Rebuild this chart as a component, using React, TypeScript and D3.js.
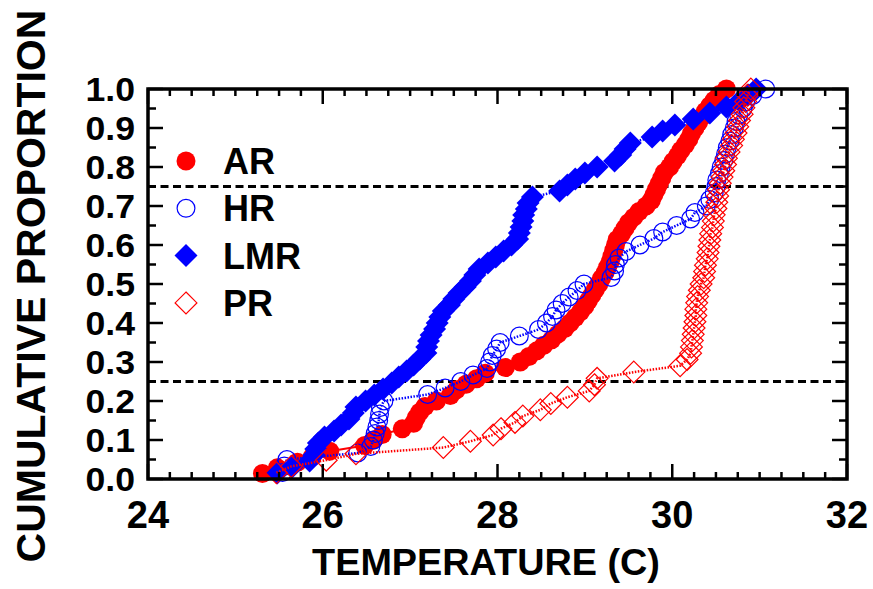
import React from "react";
import * as d3 from "d3";

const X_TICKS = [24, 26, 28, 30, 32];
const Y_TICKS = [0, 0.1, 0.2, 0.3, 0.4, 0.5, 0.6, 0.7, 0.8, 0.9, 1.0];
const Y_TICK_LABELS = ["0.0", "0.1", "0.2", "0.3", "0.4", "0.5", "0.6", "0.7", "0.8", "0.9", "1.0"];
const REF_LINES = [0.25, 0.75];
const SERIES_NAMES = ["AR", "HR", "LMR", "PR"];

const AR_TEMPS = [
  25.31, 25.48, 25.71, 25.88, 26.08, 26.48, 26.58, 26.68, 26.91, 27.04,
  27.07, 27.11, 27.17, 27.30, 27.46, 27.53, 27.64, 27.76, 27.86, 28.09,
  28.26, 28.36, 28.45, 28.53, 28.62, 28.69, 28.77, 28.83, 28.89, 28.95,
  29.00, 29.04, 29.08, 29.12, 29.16, 29.19, 29.23, 29.26, 29.29, 29.31,
  29.33, 29.35, 29.37, 29.42, 29.46, 29.50, 29.56, 29.62, 29.70, 29.76,
  29.79, 29.82, 29.85, 29.88, 29.91, 29.97, 30.01, 30.06, 30.10, 30.15,
  30.19, 30.22, 30.26, 30.30, 30.34, 30.38, 30.43, 30.48, 30.54, 30.62,
];

const HR_TEMPS = [
  25.54, 25.56, 25.59, 26.40, 26.55, 26.58, 26.60, 26.62, 26.64, 26.65,
  26.66, 26.70, 27.20, 27.40, 27.58, 27.72, 27.88, 27.91, 27.94, 27.99,
  28.03, 28.25, 28.47, 28.56, 28.63, 28.67, 28.74, 28.82, 28.91, 28.99,
  29.30, 29.34, 29.35, 29.39, 29.47, 29.63, 29.79, 29.89, 30.05, 30.21,
  30.26, 30.39, 30.43, 30.48, 30.50, 30.51, 30.54, 30.56, 30.59, 30.61,
  30.63, 30.66, 30.68, 30.71, 30.73, 30.76, 30.81, 30.84, 30.92, 31.07,
];

const LMR_TEMPS = [
  25.48, 25.65, 25.85, 25.90, 25.92, 25.95, 26.02, 26.13, 26.21, 26.30,
  26.35, 26.38, 26.49, 26.59, 26.69, 26.79, 26.87, 26.96, 27.04, 27.11,
  27.18, 27.19, 27.21, 27.24, 27.28, 27.31, 27.34, 27.38, 27.45, 27.50,
  27.56, 27.63, 27.69, 27.74, 27.79, 27.89, 27.98, 28.07, 28.16, 28.23,
  28.25, 28.27, 28.29, 28.30, 28.33, 28.35, 28.40, 28.71, 28.80, 28.89,
  29.00, 29.14, 29.34, 29.41, 29.46, 29.52, 29.77, 29.89, 30.03, 30.24,
  30.43, 30.62, 30.77, 30.87, 30.96,
];

const PR_TEMPS = [
  25.47, 25.64, 26.04, 26.38, 27.38, 27.69, 27.95, 28.04, 28.20, 28.29,
  28.49, 28.61, 28.80, 29.05, 29.11, 29.14, 29.56, 30.09, 30.17, 30.21,
  30.22, 30.23, 30.24, 30.25, 30.26, 30.27, 30.27, 30.28, 30.29, 30.31,
  30.33, 30.36, 30.37, 30.38, 30.40, 30.41, 30.42, 30.43, 30.44, 30.46,
  30.47, 30.48, 30.50, 30.51, 30.52, 30.53, 30.55, 30.57, 30.59, 30.61,
  30.62, 30.65, 30.68, 30.70, 30.73, 30.75, 30.77, 30.80, 30.82, 30.84,
  30.86, 30.90,
];

type Pt = { t: number; p: number };
const ecdf = (temps: number[]): Pt[] => {
  const s = [...temps].sort(d3.ascending);
  return s.map((t, i) => ({ t, p: (i + 1) / s.length }));
};

const RED = "#ff0000";
const BLUE = "#0000ff";
const FONT = "'Liberation Sans', Arial, sans-serif";

type Style = {
  marker: "circle" | "diamond";
  fill: string;
  stroke: string;
  lineColor: string;
  dash: string | undefined;
  lineWidth: number;
};

const STYLES: Style[] = [
  { marker: "circle", fill: RED, stroke: RED, lineColor: RED, dash: undefined, lineWidth: 2 },
  { marker: "circle", fill: "none", stroke: BLUE, lineColor: BLUE, dash: "1.5,1.5", lineWidth: 2.5 },
  { marker: "diamond", fill: BLUE, stroke: BLUE, lineColor: BLUE, dash: "1.5,1.5", lineWidth: 2.5 },
  { marker: "diamond", fill: "none", stroke: RED, lineColor: RED, dash: "1.5,1.5", lineWidth: 2.5 },
];

const CIRCLE_R = 9.5;
const DIAMOND_R = 11.5;

function Marker({ cx, cy, st }: { cx: number; cy: number; st: Style }) {
  const sw = st.fill === "none" ? 1.2 : 0;
  if (st.marker === "circle") {
    return <circle cx={cx} cy={cy} r={st.fill === "none" ? CIRCLE_R - 0.6 : CIRCLE_R} fill={st.fill} stroke={st.stroke} strokeWidth={sw} />;
  }
  const s = st.fill === "none" ? DIAMOND_R - 0.6 : DIAMOND_R;
  const d = `M${cx},${cy - s}L${cx + s},${cy}L${cx},${cy + s}L${cx - s},${cy}Z`;
  return <path d={d} fill={st.fill} stroke={st.stroke} strokeWidth={sw} />;
}

export default function App() {
  const W = 873;
  const H = 589;
  const L = 148, R = 847, T = 89, B = 479;
  const x = d3.scaleLinear().domain([24, 32]).range([L, R]);
  const y = d3.scaleLinear().domain([0, 1]).range([B, T]);

  const series = [AR_TEMPS, HR_TEMPS, LMR_TEMPS, PR_TEMPS].map(ecdf);
  const line = d3.line<Pt>().x((d) => x(d.t)).y((d) => y(d.p));

  const xMinor = d3.range(24, 32.0001, 0.25);
  const yMinor = d3.range(0, 1.0001, 0.05);

  return (
    <svg width={W} height={H} style={{ position: "absolute", left: 0, top: 0, background: "#fff" }} fontFamily={FONT}>
      <rect x={0} y={0} width={W} height={H} fill="#fff" />

      {/* reference dashed lines */}
      {REF_LINES.map((r) => (
        <line key={r} x1={L} x2={R} y1={y(r)} y2={y(r)} stroke="#000" strokeWidth={3} strokeDasharray="8,4.5" />
      ))}

      {/* series */}
      {series.map((pts, si) => {
        const st = STYLES[si];
        return (
          <g key={si}>
            <path d={line(pts) || ""} fill="none" stroke={st.lineColor} strokeWidth={st.lineWidth} strokeDasharray={st.dash} />
            {pts.map((d, i) => (
              <Marker key={i} cx={x(d.t)} cy={y(d.p)} st={st} />
            ))}
          </g>
        );
      })}

      {/* ticks */}
      {xMinor.map((v, i) => {
        const major = Math.abs(v - Math.round(v / 2) * 2) < 1e-6;
        const len = major ? 15 : 7;
        return (
          <g key={"xt" + i}>
            <line x1={x(v)} x2={x(v)} y1={B} y2={B - len} stroke="#000" strokeWidth={2.5} />
            <line x1={x(v)} x2={x(v)} y1={T} y2={T + len} stroke="#000" strokeWidth={2.5} />
          </g>
        );
      })}
      {yMinor.map((v, i) => {
        const major = i % 2 === 0;
        const len = major ? 15 : 8;
        return (
          <g key={"yt" + i}>
            <line x1={L} x2={L + len} y1={y(v)} y2={y(v)} stroke="#000" strokeWidth={2.5} />
            <line x1={R} x2={R - len} y1={y(v)} y2={y(v)} stroke="#000" strokeWidth={2.5} />
          </g>
        );
      })}

      {/* frame */}
      <rect x={L} y={T} width={R - L} height={B - T} fill="none" stroke="#000" strokeWidth={3.5} />

      {/* tick labels */}
      {X_TICKS.map((v) => (
        <text key={"xl" + v} x={x(v)} y={528} textAnchor="middle" fontSize={38} fontWeight="bold">
          {v}
        </text>
      ))}
      {Y_TICKS.map((v, i) => (
        <text
          key={"yl" + i}
          transform={`translate(135,${y(v) + 12}) scale(1.08,1)`}
          textAnchor="end"
          fontSize={33}
          fontWeight="bold"
        >
          {Y_TICK_LABELS[i]}
        </text>
      ))}

      {/* axis titles */}
      <text transform="translate(486,575) scale(1.05,1)" textAnchor="middle" fontSize={36} fontWeight="bold">
        TEMPERATURE (C)
      </text>
      <text transform="translate(45,286) rotate(-90)" textAnchor="middle" fontSize={41} fontWeight="bold">
        CUMULATIVE PROPORTION
      </text>

      {/* legend */}
      {SERIES_NAMES.map((name, i) => {
        const ly = 161 + i * 47.3;
        return (
          <g key={"lg" + i}>
            <Marker cx={186} cy={ly} st={STYLES[i]} />
            <text x={223} y={ly + 13} fontSize={36} fontWeight="bold">
              {name}
            </text>
          </g>
        );
      })}
    </svg>
  );
}
